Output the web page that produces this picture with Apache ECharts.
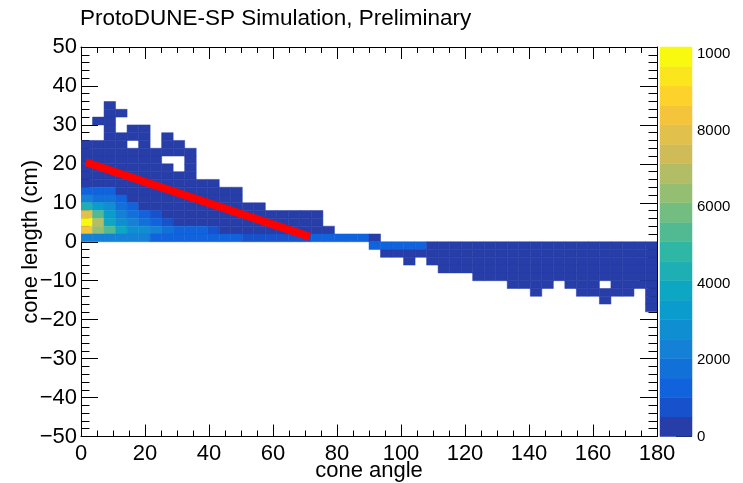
<!DOCTYPE html>
<html><head><meta charset="utf-8">
<script src="https://cdn.jsdelivr.net/npm/echarts@6/dist/echarts.min.js"></script>
<style>html,body{margin:0;padding:0;background:#fff}#c{width:743px;height:483px}</style>
</head><body><div id="c"></div>
<script>
// ---- text ----
const chartTitle = 'ProtoDUNE-SP Simulation, Preliminary';
const xTitle = 'cone angle';
const yTitle = 'cone length (cm)';

// ---- histogram definition ----
const xMin = 0, xMax = 180, xBins = 50;
const yMin = -50, yMax = 50, yBins = 50;
const zMax = 10180;
const nContours = 20;
const xTickStep = 20, yTickStep = 10, zTickStep = 2000;

// ---- bin contents: one row per y bin (lower edge), sparse from first non-empty x bin ----
const rowLowEdge = [34, 32, 30, 28, 26, 24, 22, 20, 18, 16, 14, 12, 10, 8, 6, 4, 2, 0, -2, -4, -6, -8, -10, -12, -14, -16, -18];
const rowFirstBin = [2, 2, 1, 2, 2, 0, 0, 0, 0, 0, 0, 0, 0, 0, 0, 0, 0, 0, 25, 26, 28, 31, 34, 37, 39, 45, 49];
const rowCounts = [
  [40],
  [40, 30],
  [30, 50],
  [60, 0, 40, 50],
  [80, 60, 70, 60, 0, 40],
  [90, 100, 120, 110, 0, 90, 0, 60, 40],
  [150, 160, 170, 160, 140, 120, 100, 80, 60, 50],
  [200, 210, 220, 200, 180, 150, 120, 0, 0, 60],
  [260, 270, 280, 250, 220, 190, 150, 110, 0, 70],
  [330, 340, 350, 320, 280, 240, 200, 160, 120, 80],
  [420, 430, 440, 400, 350, 300, 250, 200, 150, 110, 70, 50],
  [1270, 1100, 1050, 480, 420, 370, 310, 250, 190, 140, 100, 80, 60, 40],
  [2500, 1780, 1700, 1270, 490, 430, 360, 290, 220, 160, 120, 90, 70, 50],
  [4500, 3310, 2600, 1780, 1270, 490, 420, 350, 280, 220, 170, 130, 100, 80, 60, 40],
  [7890, 5350, 3500, 2290, 1780, 1270, 760, 480, 420, 360, 300, 250, 200, 160, 130, 100, 80, 60, 50, 40, 30],
  [10180, 6870, 3820, 2800, 2290, 1780, 1270, 760, 490, 440, 380, 320, 270, 220, 180, 140, 110, 90, 70, 50, 40],
  [8400, 6360, 5350, 3820, 3050, 2750, 2290, 1780, 1300, 1200, 1050, 700, 480, 420, 360, 300, 250, 200, 160, 120, 90, 60],
  [2350, 2300, 2250, 2300, 2200, 2100, 1400, 1350, 1300, 1300, 1250, 1200, 1150, 1100, 900, 850, 800, 800, 780, 760, 1050, 1100, 1150, 1100, 1050, 300],
  [1100, 1200, 1250, 1200, 1100, 480, 460, 440, 420, 400, 380, 360, 340, 320, 300, 290, 280, 270, 260, 250, 240, 230, 220, 210, 200],
  [200, 210, 220, 230, 240, 240, 230, 220, 210, 200, 190, 180, 170, 160, 150, 150, 140, 140, 130, 130, 120, 120, 110, 100],
  [50, 0, 120, 130, 130, 130, 130, 120, 120, 110, 110, 100, 100, 90, 90, 90, 80, 80, 80, 70, 70, 60],
  [60, 60, 60, 70, 70, 70, 60, 60, 60, 50, 50, 50, 50, 50, 40, 40, 40, 40, 40],
  [40, 40, 40, 40, 40, 40, 30, 30, 30, 30, 30, 30, 30, 30, 30, 30],
  [20, 20, 20, 15, 0, 20, 20, 20, 0, 20, 20, 20, 20],
  [10, 0, 0, 0, 10, 10, 10, 10, 10, 0, 10],
  [5, 0, 0, 0, 5],
  [5]
];

// ---- fitted line ----
const lineX = [1.5, 71.5];
const lineY = [20.4, 1.3];

// ---- ROOT kBird palette ----
const birdStops = [0.0, 0.125, 0.25, 0.375, 0.5, 0.625, 0.75, 0.875, 1.0];
const birdR = [0.2082, 0.0592, 0.0780, 0.0232, 0.1802, 0.5301, 0.8186, 0.9956, 0.9764];
const birdG = [0.1664, 0.3599, 0.5041, 0.6419, 0.7178, 0.7492, 0.7328, 0.7862, 0.9832];
const birdB = [0.5293, 0.8684, 0.8385, 0.7914, 0.6425, 0.4662, 0.3499, 0.1968, 0.0539];

function bird(t) {
  let i = 0;
  while (i < birdStops.length - 2 && t > birdStops[i + 1]) i++;
  const f = (t - birdStops[i]) / (birdStops[i + 1] - birdStops[i]);
  const c = a => Math.round(255 * (a[i] + (a[i + 1] - a[i]) * f));
  return 'rgb(' + c(birdR) + ',' + c(birdG) + ',' + c(birdB) + ')';
}
const bandColors = [];
for (let k = 0; k < nContours; k++) {
  bandColors.push(bird(Math.floor((k + 0.99) * 255 / nContours) / 255));
}
function colorOf(v) {
  let k = Math.floor(v / zMax * nContours);
  if (k >= nContours) k = nContours - 1;
  return bandColors[k];
}

// ---- build cells ----
const dx = (xMax - xMin) / xBins, dy = (yMax - yMin) / yBins;
const cells = [];
rowLowEdge.forEach((y0, r) => {
  rowCounts[r].forEach((v, j) => {
    if (v > 0) {
      const b = rowFirstBin[r] + j;
      cells.push([xMin + b * dx, xMin + (b + 1) * dx, y0, y0 + dy, v]);
    }
  });
});
const bands = [];
for (let k = 0; k < nContours; k++) bands.push([0, 1, k * zMax / nContours, (k + 1) * zMax / nContours, k]);

function rectItem(api, col) {
  const p0 = api.coord([api.value(0), api.value(3)]);
  const p1 = api.coord([api.value(1), api.value(2)]);
  return {
    type: 'rect',
    shape: { x: p0[0], y: p0[1], width: p1[0] - p0[0], height: p1[1] - p0[1] },
    style: { fill: col, stroke: col, lineWidth: 0.5 }
  };
}

const FONT = 'Liberation Sans, Arial, Helvetica, sans-serif';
const minus = v => String(v).replace('-', '\u2212');

const baseX = {
  type: 'value', gridIndex: 0, min: xMin, max: xMax, interval: xTickStep,
  axisLine: { show: true, onZero: false, lineStyle: { color: '#000', width: 1 } },
  axisTick: { show: true, inside: true, length: 12, lineStyle: { color: '#000', width: 1 } },
  minorTick: { show: true, splitNumber: 4, length: 6, lineStyle: { color: '#000', width: 1 } },
  splitLine: { show: false }, minorSplitLine: { show: false }
};
const baseY = {
  type: 'value', gridIndex: 0, min: yMin, max: yMax, interval: yTickStep,
  axisLine: { show: true, onZero: false, lineStyle: { color: '#000', width: 1 } },
  axisTick: { show: true, inside: true, length: 17, lineStyle: { color: '#000', width: 1 } },
  minorTick: { show: true, splitNumber: 5, length: 8.5, lineStyle: { color: '#000', width: 1 } },
  splitLine: { show: false }, minorSplitLine: { show: false }
};

const option = {
  animation: false,
  backgroundColor: '#fff',
  textStyle: { fontFamily: FONT },
  graphic: [{
    type: 'text', left: 80, top: 7,
    style: { text: chartTitle, fontSize: 22.5, fontFamily: FONT, fill: '#000' }
  }],
  grid: [
    { left: 81, top: 47, width: 576, height: 389.5, outerBoundsMode: 'none' },
    { left: 660, top: 47, width: 32, height: 389.5, outerBoundsMode: 'none' }
  ],
  xAxis: [
    Object.assign({}, baseX, {
      position: 'bottom',
      axisLabel: { show: true, fontSize: 22, color: '#000', fontFamily: FONT, margin: 6 },
      name: xTitle, nameLocation: 'middle', nameGap: 34, nameMoveOverlap: false,
      nameTextStyle: { fontSize: 22, color: '#000', fontFamily: FONT, verticalAlign: 'middle', align: 'center' }
    }),
    Object.assign({}, baseX, { position: 'top', axisLabel: { show: false } }),
    { type: 'value', gridIndex: 1, min: 0, max: 1, show: false }
  ],
  yAxis: [
    Object.assign({}, baseY, {
      position: 'left',
      axisLabel: { show: true, fontSize: 22, color: '#000', fontFamily: FONT, margin: 4, formatter: minus },
      name: yTitle, nameLocation: 'middle', nameGap: 50, nameMoveOverlap: false,
      nameTextStyle: { fontSize: 22, color: '#000', fontFamily: FONT, verticalAlign: 'middle', align: 'center' }
    }),
    Object.assign({}, baseY, { position: 'right', axisLabel: { show: false } }),
    {
      type: 'value', gridIndex: 1, position: 'right', min: 0, max: zMax, interval: zTickStep,
      axisLine: { show: false, onZero: false },
      axisTick: { show: true, inside: true, length: 16, lineStyle: { color: '#000', width: 1 } },
      splitLine: { show: false },
      axisLabel: { show: true, fontSize: 15, color: '#000', fontFamily: FONT, margin: 5,
        formatter: v => String(v), width: 35, overflow: 'truncate', ellipsis: '', showMaxLabel: false }
    }
  ],
  series: [
    {
      type: 'custom', xAxisIndex: 0, yAxisIndex: 0, clip: true,
      encode: { x: [0, 1], y: [2, 3] },
      renderItem: (p, api) => rectItem(api, colorOf(api.value(4))),
      data: cells, z: 2
    },
    {
      type: 'custom', xAxisIndex: 2, yAxisIndex: 2,
      encode: { x: [0, 1], y: [2, 3] },
      renderItem: (p, api) => rectItem(api, bandColors[api.value(4)]),
      data: bands, z: 2
    },
    {
      type: 'line', xAxisIndex: 0, yAxisIndex: 0,
      data: lineX.map((x, i) => [x, lineY[i]]),
      showSymbol: false, symbol: 'none',
      lineStyle: { color: '#ff0000', width: 8, cap: 'butt' }, z: 5
    }
  ]
};
echarts.init(document.getElementById('c'), null, { renderer: 'canvas' }).setOption(option);
</script></body></html>
